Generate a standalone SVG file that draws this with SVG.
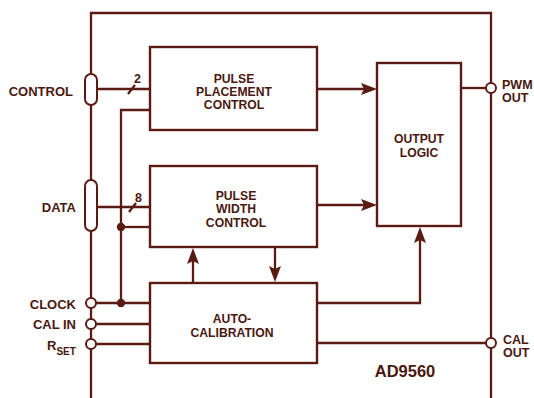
<svg xmlns="http://www.w3.org/2000/svg" width="534" height="398" viewBox="0 0 534 398">
<defs>
<style>
.ln{fill:none;stroke:#5a1c12;stroke-width:2.3}
.bx{fill:#fff;stroke:#5a1c12;stroke-width:2.4}
.pin{fill:#fff;stroke:#5a1c12;stroke-width:2}
.ah{fill:#5a1c12;stroke:none}
.dot{fill:#5a1c12}
text{font-family:"Liberation Sans",Arial,sans-serif;font-weight:bold;fill:#4a1810}
.bt{font-size:12.2px;text-anchor:middle}
.lt{font-size:13px;text-anchor:end}
.rt{font-size:12.5px}
.num{font-size:12.5px}
</style>
</defs>
<rect width="534" height="398" fill="#fff"/>
<g id="package">
<path class="ln" d="M91,398 V13 H491 V398"/>
<text x="405" y="377" style="font-size:16.5px;text-anchor:middle">AD9560</text>
</g>
<g id="connectors">
<path class="ln" d="M97,89 H150"/>
<path class="ln" d="M128,94 L135,85"/>
<text class="num" x="134" y="83">2</text>
<path class="ln" d="M97,207 H150"/>
<path class="ln" d="M129,212 L136,203"/>
<text class="num" x="135" y="202">8</text>
<path class="ln" d="M150,110 H121 V303"/>
<path class="ln" d="M121,227 H150"/>
<path class="ln" d="M96,303 H150"/>
<path class="ln" d="M96,324 H150"/>
<path class="ln" d="M96,344 H150"/>
<circle class="dot" cx="121" cy="227" r="4.2"/>
<circle class="dot" cx="121" cy="303" r="4.2"/>
<path class="ln" d="M317,89 H366"/>
<path class="ah" d="M377,89 L361,83 L364,89 L361,95 Z"/>
<path class="ln" d="M317,205 H366"/>
<path class="ah" d="M377,205 L361,199 L364,205 L361,211 Z"/>
<path class="ln" d="M193,283 V258"/>
<path class="ah" d="M193,248 L187,264 L193,261 L199,264 Z"/>
<path class="ln" d="M275,248 V272"/>
<path class="ah" d="M275,282 L269,266 L275,269 L281,266 Z"/>
<path class="ln" d="M317,303 H420 V238"/>
<path class="ah" d="M420,227 L414,243 L420,240 L426,243 Z"/>
<path class="ln" d="M461,88 H486"/>
<path class="ln" d="M317,343 H486"/>
</g>
<g id="pin-control">
<rect class="pin" x="85" y="74" width="12" height="31" rx="6"/>
<text class="lt" x="73" y="96">CONTROL</text>
</g>
<g id="pin-data">
<rect class="pin" x="85" y="180" width="12" height="51" rx="6"/>
<text class="lt" x="76" y="212">DATA</text>
</g>
<g id="pin-clock">
<circle class="pin" cx="91" cy="303" r="5"/>
<text class="lt" x="76" y="309">CLOCK</text>
</g>
<g id="pin-calin">
<circle class="pin" cx="91" cy="324" r="5"/>
<text class="lt" x="76" y="329">CAL IN</text>
</g>
<g id="pin-rset">
<circle class="pin" cx="91" cy="344" r="5"/>
<text x="47" y="350" style="font-size:13px">R<tspan dy="5" style="font-size:10px">SET</tspan></text>
</g>
<g id="pin-pwmout">
<circle class="pin" cx="491" cy="88" r="5"/>
<text class="rt" x="502" y="89">PWM</text>
<text class="rt" x="502" y="102">OUT</text>
</g>
<g id="pin-calout">
<circle class="pin" cx="491" cy="343" r="5"/>
<text class="rt" x="503" y="344">CAL</text>
<text class="rt" x="503" y="357">OUT</text>
</g>
<g id="pulse-placement">
<rect class="bx" x="150" y="47" width="167" height="83"/>
<text class="bt" x="234" y="83">PULSE</text>
<text class="bt" x="234" y="96">PLACEMENT</text>
<text class="bt" x="234" y="109">CONTROL</text>
</g>
<g id="pulse-width">
<rect class="bx" x="150" y="166" width="167" height="81"/>
<text class="bt" x="236" y="200">PULSE</text>
<text class="bt" x="236" y="213">WIDTH</text>
<text class="bt" x="236" y="227">CONTROL</text>
</g>
<g id="auto-calibration">
<rect class="bx" x="150" y="283" width="167" height="80"/>
<text class="bt" x="232" y="323">AUTO-</text>
<text class="bt" x="232" y="337">CALIBRATION</text>
</g>
<g id="output-logic">
<rect class="bx" x="377" y="63" width="84" height="163"/>
<text class="bt" x="419" y="143">OUTPUT</text>
<text class="bt" x="419" y="157">LOGIC</text>
</g>
</svg>
